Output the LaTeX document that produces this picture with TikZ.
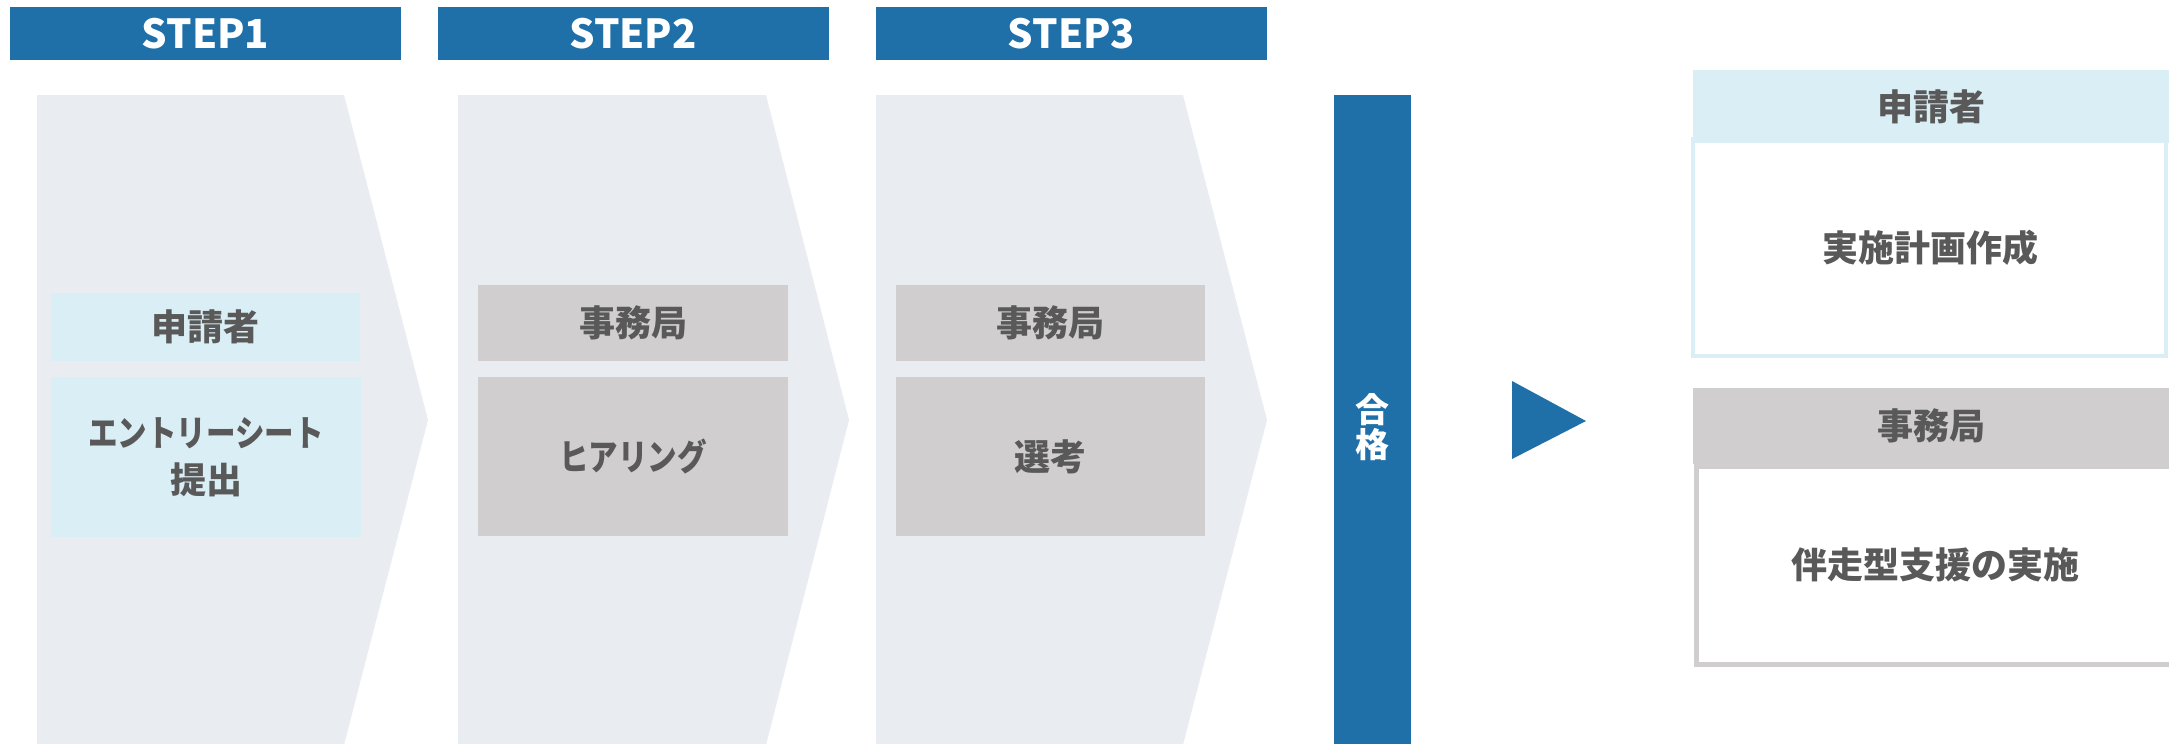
\documentclass[tikz,border=0pt]{standalone}
\usepackage{graphicx}
\usepackage{fontspec}
\setmainfont{Noto Sans CJK JP}
\definecolor{mblue}{HTML}{1F70A9}
\definecolor{chev}{HTML}{E9ECF1}
\definecolor{lblue}{HTML}{DAEEF5}
\definecolor{mgray}{HTML}{D0CECE}
\definecolor{tgray}{HTML}{595959}
\newcommand{\narrow}[1]{\scalebox{0.82}[1]{#1}}
\tikzset{
  banner/.style={fill=mblue, inner sep=0pt, minimum width=195.5pt, minimum height=26.5pt, text=white, font=\bfseries\fontsize{20}{24}\selectfont},
  chevshape/.style={fill=chev, draw=none},
  jtext/.style={text=tgray, font=\bfseries\fontsize{18}{23.5}\selectfont, align=center, inner sep=0pt},
  hdrblue/.style={jtext, fill=lblue},
  hdrgray/.style={jtext, fill=mgray},
}
\begin{document}
\begin{tikzpicture}[x=0.5pt, y=-0.5pt]
\useasboundingbox (0,0) rectangle (2169,744);
% banners
\node[banner] (s1) at (205.5,33.5) {STEP1};
\node[banner] (s2) at (633,33.5) {STEP2};
\node[banner] (s3) at (1071.5,33.5) {STEP3};
% chevrons
\fill[chevshape] (37,95) -- (344,95) -- (428,420) -- (344,745) -- (37,745) -- cycle;
\fill[chevshape] (458,95) -- (766,95) -- (849,420) -- (766,745) -- (458,745) -- cycle;
\fill[chevshape] (876,95) -- (1183,95) -- (1267,420) -- (1183,745) -- (876,745) -- cycle;
% step boxes
\node[hdrblue, minimum width=154.5pt, minimum height=34pt] (h1) at (205.5,327) {申請者};
\node[hdrblue, minimum width=155pt, minimum height=80pt] (b1) at (206,457) {\narrow{エントリーシート}\\提出};
\node[hdrgray, minimum width=155pt, minimum height=38pt] (h2) at (633,323) {事務局};
\node[hdrgray, minimum width=155pt, minimum height=79.5pt] (b2) at (633,456.5) {\narrow{ヒアリング}};
\node[hdrgray, minimum width=154.5pt, minimum height=38pt] (h3) at (1050.5,323) {事務局};
\node[hdrgray, minimum width=154.5pt, minimum height=79.5pt] (b3) at (1050.5,456.5) {選考};
% pass bar
\fill[mblue] (1334,95) rectangle (1411,750);
\node[text=white, font=\bfseries\fontsize{17}{17.5}\selectfont, align=center, inner sep=0pt] (pass) at (1372.5,427) {合\\格};
% triangle
\fill[mblue] (1512,381) -- (1586,421) -- (1512,459) -- cycle;
% right boxes
\draw[line width=2pt, draw=lblue, fill=white] (1693,139) rectangle (2166,356);
\node[hdrblue, minimum width=238pt, minimum height=36.5pt] (rh1) at (1931,106.5) {申請者};
\node[jtext] (rb1) at (1930,248) {実施計画作成};
\draw[line width=2.5pt, draw=mgray, fill=white] (1696.5,466.5) rectangle (2180,664.5);
\node[hdrgray, minimum width=238pt, minimum height=38pt] (rh2) at (1931,426) {事務局};
\node[jtext] (rb2) at (1935,565) {伴走型支援の実施};
\end{tikzpicture}
\end{document}
